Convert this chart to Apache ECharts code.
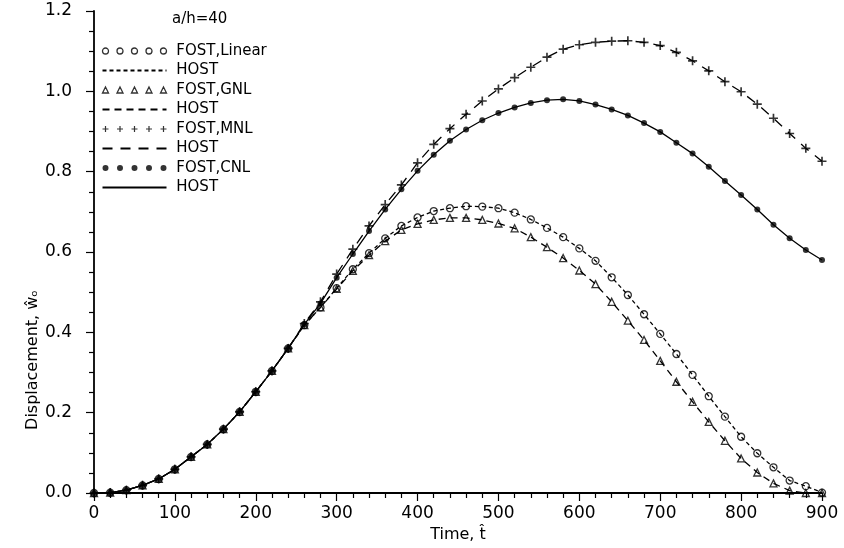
<!DOCTYPE html>
<html>
<head>
<meta charset="utf-8">
<script src="https://cdn.jsdelivr.net/npm/echarts@6/dist/echarts.min.js"></script>
<style>
  html, body { margin: 0; padding: 0; background: #fff; }
  #chart { width: 844px; height: 548px; }
</style>
</head>
<body>
<div id="chart"></div>
<script>
// ---- data ----
const times = [0,20,40,60,80,100,120,140,160,180,200,220,240,260,280,300,320,340,360,380,400,420,440,460,480,500,520,540,560,580,600,620,640,660,680,700,720,740,760,780,800,820,840,860,880,900];

const fostLinear = [0,0.001,0.007,0.019,0.035,0.059,0.090,0.121,0.159,0.202,0.252,0.304,0.360,0.418,0.462,0.510,0.557,0.597,0.634,0.665,0.686,0.702,0.709,0.714,0.713,0.709,0.698,0.681,0.660,0.637,0.609,0.578,0.537,0.493,0.445,0.396,0.346,0.294,0.241,0.190,0.140,0.099,0.064,0.031,0.017,0.001];
const hostLinear = [0,0.001,0.007,0.019,0.035,0.059,0.090,0.121,0.159,0.202,0.252,0.304,0.360,0.418,0.462,0.510,0.557,0.597,0.634,0.665,0.686,0.702,0.709,0.714,0.713,0.709,0.698,0.681,0.660,0.637,0.609,0.578,0.537,0.493,0.445,0.396,0.346,0.294,0.241,0.190,0.140,0.099,0.064,0.031,0.017,0.001];

const fostGNL = [0,0.001,0.007,0.019,0.035,0.059,0.090,0.121,0.159,0.202,0.252,0.304,0.360,0.418,0.462,0.508,0.553,0.592,0.627,0.655,0.670,0.680,0.685,0.685,0.680,0.671,0.659,0.637,0.612,0.585,0.554,0.520,0.476,0.429,0.381,0.329,0.277,0.227,0.177,0.130,0.086,0.051,0.024,0.006,0.000,0.000];
const hostGNL = [0,0.001,0.007,0.019,0.035,0.059,0.090,0.121,0.159,0.202,0.252,0.304,0.360,0.418,0.462,0.508,0.553,0.592,0.627,0.655,0.670,0.680,0.685,0.685,0.680,0.671,0.659,0.637,0.612,0.585,0.554,0.520,0.476,0.429,0.381,0.329,0.277,0.227,0.177,0.130,0.086,0.051,0.024,0.006,0.000,0.000];

const fostMNL = [0,0.001,0.007,0.019,0.035,0.059,0.090,0.121,0.159,0.202,0.252,0.304,0.360,0.422,0.476,0.545,0.607,0.665,0.718,0.767,0.822,0.868,0.907,0.943,0.976,1.006,1.034,1.060,1.085,1.105,1.116,1.122,1.125,1.126,1.122,1.114,1.097,1.076,1.051,1.024,0.999,0.968,0.933,0.895,0.858,0.826];
const hostMNL = [0,0.001,0.007,0.019,0.035,0.059,0.090,0.121,0.159,0.202,0.252,0.304,0.360,0.422,0.476,0.545,0.607,0.665,0.718,0.767,0.822,0.868,0.907,0.943,0.976,1.006,1.034,1.060,1.085,1.105,1.116,1.122,1.125,1.126,1.122,1.114,1.097,1.076,1.051,1.024,0.999,0.968,0.933,0.895,0.858,0.826];

const fostCNL = [0,0.001,0.007,0.019,0.035,0.059,0.090,0.121,0.159,0.202,0.252,0.304,0.360,0.420,0.472,0.536,0.595,0.652,0.706,0.756,0.802,0.842,0.877,0.905,0.928,0.946,0.960,0.971,0.978,0.980,0.976,0.967,0.955,0.940,0.921,0.899,0.872,0.845,0.812,0.777,0.742,0.706,0.668,0.634,0.605,0.580];
const hostCNL = [0,0.001,0.007,0.019,0.035,0.059,0.090,0.121,0.159,0.202,0.252,0.304,0.360,0.420,0.472,0.536,0.595,0.652,0.706,0.756,0.802,0.842,0.877,0.905,0.928,0.946,0.960,0.971,0.978,0.980,0.976,0.967,0.955,0.940,0.921,0.899,0.872,0.845,0.812,0.777,0.742,0.706,0.668,0.634,0.605,0.580];

const seriesNames = ['FOST,Linear','HOST','FOST,GNL','HOST ','FOST,MNL','HOST  ','FOST,CNL','HOST   '];
const xTicks = [0,100,200,300,400,500,600,700,800,900];
const yTicks = [0.0,0.2,0.4,0.6,0.8,1.0,1.2];
const caseLabel = 'a/h=40';

// ---- helpers ----
const pair = (vals) => times.map((t, i) => [t, vals[i]]);
const centers = [3, 17.5, 32, 46.5, 61];
const circlesIcon = 'path://' + centers.map(c => `M${c-3},3a3,3 0 1,0 6,0a3,3 0 1,0 -6,0`).join('');
const triIcon = 'path://' + centers.map(c => `M${c},0L${c+3},6L${c-3},6Z`).join('');
const plusIcon = 'path://' + centers.map(c => `M${c-0.6},0h1.2v2.4h2.4v1.2h-2.4v2.4h-1.2v-2.4h-2.4v-1.2h2.4z`).join('');
const plusSym = 'path://M-0.65,-3.5h1.3v2.85h2.85v1.3h-2.85v2.85h-1.3v-2.85h-2.85v-1.3h2.85z';

const black = '#000';
const lineSeries = (name, vals, dash) => ({
  name, type: 'line', data: pair(vals), symbol: 'none', z: 2,
  lineStyle: { color: black, width: 1.3, type: dash },
  itemStyle: { color: black }, silent: true
});
const scatterSeries = (name, vals, symbol, size, style) => ({
  name, type: 'scatter', data: pair(vals), symbol, symbolSize: size, z: 3,
  itemStyle: style, silent: true
});
const openStyle = { color: 'none', borderColor: black, borderWidth: 1.3 };
const fillStyle = { color: black };
const hiddenSym = { color: 'rgba(0,0,0,0)', borderWidth: 0, opacity: 0 };

const chart = echarts.init(document.getElementById('chart'), null, { renderer: 'canvas' });
const font = 'DejaVu Sans';
chart.setOption({
  animation: false,
  backgroundColor: '#fff',
  textStyle: { fontFamily: font, color: black },
  grid: { left: 94, right: 22, top: 11, bottom: 55, containLabel: false },
  xAxis: {
    type: 'value', min: xTicks[0], max: xTicks[xTicks.length-1], interval: 100,
    name: 'Time, t\u0302', nameLocation: 'middle', nameGap: 32,
    nameTextStyle: { fontFamily: font, fontSize: 16, color: black },
    axisLine: { show: true, lineStyle: { color: black, width: 1.8 } },
    axisTick: { show: true, length: 8, lineStyle: { color: black, width: 1.2 } },
    minorTick: { show: true, splitNumber: 5, length: 5, lineStyle: { color: black, width: 1.2 } },
    axisLabel: { fontFamily: font, fontSize: 17, color: black, margin: 12 },
    splitLine: { show: false }
  },
  yAxis: {
    type: 'value', min: yTicks[0], max: yTicks[yTicks.length-1], interval: 0.2,
    axisLine: { show: true, lineStyle: { color: black, width: 1.8 } },
    axisTick: { show: true, length: 8, lineStyle: { color: black, width: 1.2 } },
    minorTick: { show: true, splitNumber: 4, length: 5, lineStyle: { color: black, width: 1.2 } },
    axisLabel: { fontFamily: font, fontSize: 17, color: black, margin: 22, formatter: v => v.toFixed(1) },
    splitLine: { show: false }
  },
  legend: {
    orient: 'vertical', left: 95, top: 38, itemGap: 3.5,
    itemWidth: 64, itemHeight: 6,
    textStyle: { fontFamily: font, fontSize: 15, color: black, lineHeight: 16 },
    formatter: n => ' ' + n.trim(),
    selectedMode: false,
    data: [
      { name: seriesNames[0], icon: circlesIcon, itemStyle: openStyle },
      { name: seriesNames[1], itemStyle: hiddenSym },
      { name: seriesNames[2], icon: triIcon, itemStyle: openStyle },
      { name: seriesNames[3], itemStyle: hiddenSym },
      { name: seriesNames[4], icon: plusIcon, itemStyle: fillStyle },
      { name: seriesNames[5], itemStyle: hiddenSym },
      { name: seriesNames[6], icon: circlesIcon, itemStyle: fillStyle },
      { name: seriesNames[7], itemStyle: hiddenSym }
    ]
  },
  graphic: [
    { type: 'text', left: 172, top: 12, style: { text: caseLabel, font: '15px "DejaVu Sans"', fill: black } },
    { type: 'text', x: 33, y: 360, rotation: Math.PI / 2,
      style: { text: 'Displacement, \u0175\u2092', font: '16px "DejaVu Sans"', fill: black, align: 'center', verticalAlign: 'middle' } }
  ],
  series: [
    lineSeries(seriesNames[1], hostLinear, [4, 3]),
    lineSeries(seriesNames[3], hostGNL, [7, 5]),
    lineSeries(seriesNames[5], hostMNL, [10, 8]),
    lineSeries(seriesNames[7], hostCNL, 'solid'),
    scatterSeries(seriesNames[0], fostLinear, 'circle', 7, openStyle),
    scatterSeries(seriesNames[2], fostGNL, 'triangle', 7, openStyle),
    scatterSeries(seriesNames[4], fostMNL, plusSym, 9, fillStyle),
    scatterSeries(seriesNames[6], fostCNL, 'circle', 6, fillStyle)
  ]
});
</script>
</body>
</html>
